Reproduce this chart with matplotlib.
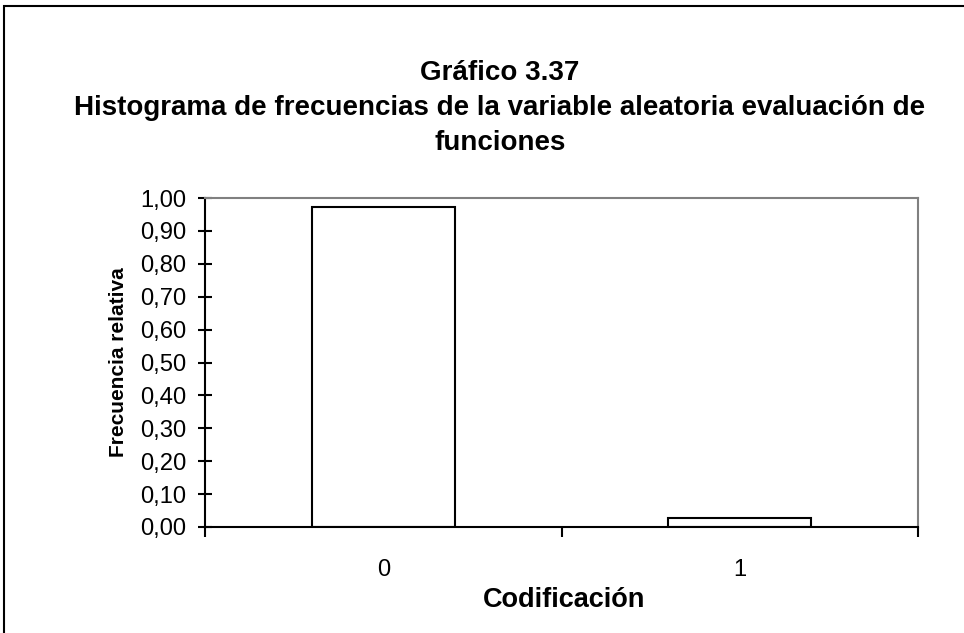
import matplotlib
matplotlib.use("Agg")
import matplotlib.pyplot as plt
from matplotlib.patches import Rectangle

categories = ["0", "1"]
values = [0.973, 0.027]
yticks = [0.0, 0.1, 0.2, 0.3, 0.4, 0.5, 0.6, 0.7, 0.8, 0.9, 1.0]
title_lines = ["Gráfico 3.37",
               "Histograma de frecuencias de la variable aleatoria evaluación de",
               "funciones"]
ylabel = "Frecuencia relativa"
xlabel = "Codificación"

plt.rcParams['font.family'] = ['Liberation Sans', 'DejaVu Sans']

W, H = 964, 633
fig = plt.figure(figsize=(W / 100, H / 100), dpi=100)
renderer = fig.canvas.get_renderer()


def fit_size(text, target_px, weight='normal', start=15.0):
    size = start
    for _ in range(3):
        t = fig.text(0, 0, text, fontsize=size, fontweight=weight)
        w = t.get_window_extent(renderer).width
        t.remove()
        size *= target_px / w
    return size


title_size = fit_size(title_lines[1], 857, 'bold', 19)
tick_size = fit_size("1,00", 46, 'normal', 16)
ylab_size = fit_size(ylabel, 190, 'bold', 14)
xlab_size = fit_size(xlabel, 163, 'bold', 19)

# outer border
fig.patches.append(Rectangle((4/W, -0.05), 1.2, 1 - 6/H + 0.05, transform=fig.transFigure,
                             fill=False, edgecolor='black', linewidth=1.5))

ax = fig.add_axes([205/W, 1 - 527/H, (918 - 205)/W, (527 - 198)/H])
x = list(range(len(categories)))
ax.bar(x, values, width=0.4, color='white', edgecolor='black', linewidth=1.5)
ax.set_xlim(-0.5, 1.5)
ax.set_ylim(0, 1.0)
ax.set_yticks(yticks)
ax.set_yticklabels([f"{v:.2f}".replace('.', ',') for v in yticks], fontsize=tick_size)
ax.set_xticks(x)
ax.set_xticklabels(categories, fontsize=tick_size)
ax.tick_params(axis='x', length=0, pad=23)
ax.set_xticks([-0.5, 0.5, 1.5], minor=True)
ax.tick_params(axis='x', which='minor', direction='out', length=7, width=1.5)
ax.tick_params(axis='y', direction='inout', length=10, width=1.5, pad=8.7)
for s in ['left', 'bottom']:
    ax.spines[s].set_linewidth(1.5)
    ax.spines[s].set_color('black')
for s in ['top', 'right']:
    ax.spines[s].set_color('#808080')
    ax.spines[s].set_linewidth(1.5)

fig.text(118/W, 1 - 362/H, ylabel, rotation=90, ha='center', va='center',
         fontsize=ylab_size, fontweight='bold')
fig.text(564/W, 1 - 600/H, xlabel, ha='center', va='center',
         fontsize=xlab_size, fontweight='bold')
for line, base in zip(title_lines, [80, 115, 150]):
    fig.text(500/W, 1 - base/H, line, ha='center', va='baseline', fontsize=title_size,
             fontweight='bold')
fig.savefig("out.png", dpi=100)
